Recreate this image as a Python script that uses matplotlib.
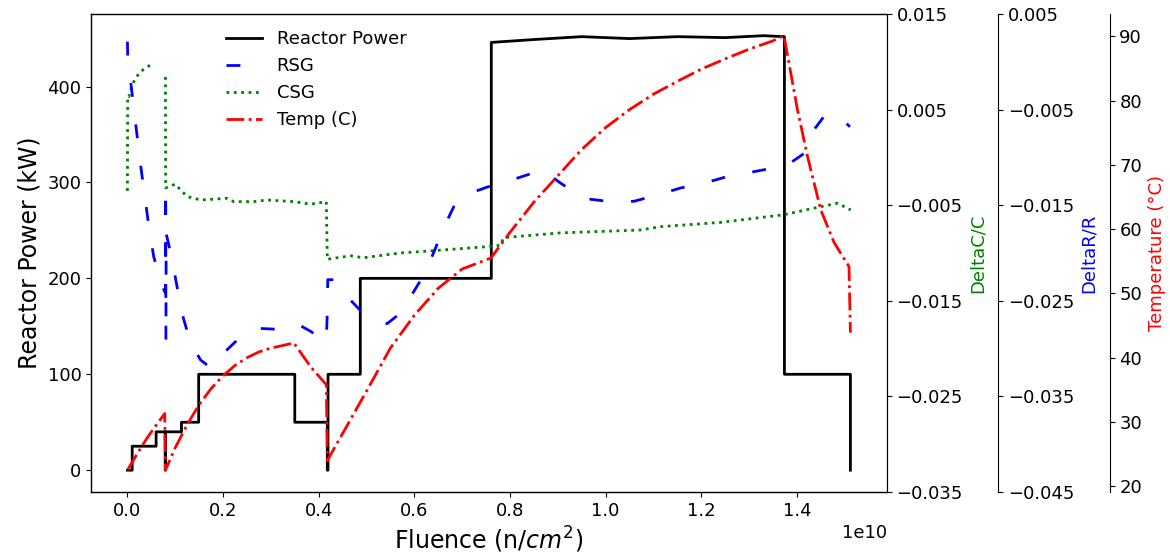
import numpy as np
import matplotlib
matplotlib.use("Agg")
import matplotlib.pyplot as plt

# ---------- data (fluence in units of 1e10 n/cm^2) ----------
power_fluence = [0.0, 0.01, 0.01, 0.06, 0.06, 0.079, 0.079, 0.0795, 0.0795, 0.113, 0.113,
                 0.149, 0.149, 0.35, 0.35, 0.418, 0.418, 0.4195, 0.4195, 0.487, 0.487,
                 0.761, 0.761, 0.85, 0.95, 1.05, 1.15, 1.25, 1.33, 1.374, 1.374, 1.512, 1.512]
power_kw = [0, 0, 25, 25, 40, 40, 0, 0, 40, 40, 50,
            50, 100, 100, 50, 50, 0, 0, 100, 100, 200,
            200, 446, 449, 452, 450, 452, 451, 453, 452, 100, 100, 0]

rsg_fluence = [0.0, 0.001, 0.003, 0.013, 0.027, 0.045, 0.055, 0.073, 0.0795,
               0.080, 0.0805, 0.081, 0.086, 0.100, 0.114, 0.132, 0.153, 0.174, 0.195,
               0.209, 0.236, 0.278, 0.320, 0.358, 0.383, 0.416, 0.418, 0.419, 0.432,
               0.460, 0.487, 0.515, 0.543, 0.571, 0.592, 0.620, 0.641, 0.662, 0.686,
               0.714, 0.753, 0.801, 0.857, 0.868, 0.906, 0.955, 1.004, 1.059, 1.111,
               1.157, 1.206, 1.255, 1.310, 1.352, 1.380, 1.415, 1.436, 1.457, 1.471,
               1.492, 1.511]
rsg = [0.0021, -0.0003, -0.0005, -0.0047, -0.0106, -0.0173, -0.0204, -0.0235, -0.0242,
       -0.0131, -0.0293, -0.0180, -0.0190, -0.0225, -0.0263, -0.0294, -0.0312, -0.0320, -0.0309,
       -0.0301, -0.0288, -0.0279, -0.0280, -0.0275, -0.0282, -0.0293, -0.0261, -0.0228, -0.0228,
       -0.0246, -0.0260, -0.0268, -0.0274, -0.0263, -0.0246, -0.0223, -0.0199, -0.0173, -0.0148,
       -0.0138, -0.0131, -0.0124, -0.0115, -0.0113, -0.0127, -0.0143, -0.0146, -0.0146, -0.0139,
       -0.0132, -0.0127, -0.0120, -0.0115, -0.0111, -0.0108, -0.0096, -0.0071, -0.0057, -0.0054,
       -0.0059, -0.0068]

csg_fluence = [0.0, 0.0005, 0.003, 0.010, 0.017, 0.027, 0.048, 0.06,
               0.0795, 0.080, 0.100, 0.111, 0.125, 0.153, 0.209, 0.222, 0.264, 0.292,
               0.348, 0.383, 0.416, 0.418, 0.425, 0.467, 0.494, 0.571, 0.613, 0.753,
               0.780, 0.787, 0.906, 1.073, 1.115, 1.241, 1.373, 1.450, 1.485, 1.5126]
csg = [-0.0035, 0.0064, 0.00635, 0.00757, 0.00827, 0.00896, 0.00967, np.nan,
       0.0084, -0.0032, -0.0028, -0.0034, -0.0041, -0.00446, -0.00428, -0.00463, -0.00463, -0.00446,
       -0.00463, -0.0049, -0.00463, -0.0107, -0.0106, -0.0103, -0.0105, -0.0100, -0.00986, -0.00934,
       -0.0092, -0.0084, -0.0079, -0.0076, -0.00725, -0.0068, -0.0060, -0.00516, -0.0048, -0.0055]

temp_fluence = [0.0, 0.02, 0.041, 0.06, 0.078, 0.0795,
                0.1, 0.125, 0.15, 0.175, 0.2, 0.225, 0.25, 0.275, 0.3, 0.325, 0.348,
                0.383, 0.416, 0.418,
                0.45, 0.5, 0.55, 0.6, 0.65, 0.7, 0.76,
                0.8, 0.85, 0.9, 0.95, 1.0, 1.05, 1.1, 1.15, 1.2, 1.25, 1.3, 1.35, 1.373,
                1.401, 1.422, 1.450, 1.478, 1.509, 1.512]
temp_c = [22.5, 25.0, 27.5, 29.5, 31.3, 22.5,
          26.0, 29.6, 32.7, 35.2, 37.2, 38.8, 40.0, 40.9, 41.5, 41.9, 42.3,
          38.6, 35.8, 24.0,
          28.2, 34.8, 41.5, 46.6, 50.8, 53.8, 55.5,
          59.5, 64.2, 68.3, 72.4, 75.8, 78.6, 81.0, 83.0, 84.9, 86.5, 88.0, 89.3, 90.1,
          78.7, 71.4, 63.0, 57.9, 54.2, 43.9]

dc_ticks = [-0.035, -0.025, -0.015, -0.005, 0.005, 0.015]
dr_ticks = [-0.045, -0.035, -0.025, -0.015, -0.005, 0.005]

scale = 1e10
fs_tick = 13

fig = plt.figure(figsize=(11.7, 5.59), dpi=100)
ax = fig.add_axes([0.078, 0.12, 0.68, 0.855])
ax2 = ax.twinx()
ax3 = ax.twinx()
ax4 = ax.twinx()
ax3.spines['right'].set_position(('axes', 1.14))
ax4.spines['right'].set_position(('axes', 1.28))

l1, = ax.plot(np.array(power_fluence) * scale, power_kw, color='k', lw=2, label='Reactor Power')
l2, = ax3.plot(np.array(rsg_fluence) * scale, rsg, color='b', lw=2, dashes=(5, 10), label='RSG')
l3, = ax2.plot(np.array(csg_fluence) * scale, csg, color='g', lw=2, ls=':', label='CSG')
l4, = ax4.plot(np.array(temp_fluence) * scale, temp_c, color='r', lw=2, ls='-.', label='Temp (C)')

ax.set_xlabel('Fluence (n/$cm^2$)', fontsize=17)
ax.set_ylabel('Reactor Power (kW)', fontsize=17)

ax2.set_ylim(-0.035, 0.015)
ax2.set_yticks(dc_ticks)
ax2.set_ylabel('DeltaC/C', color='g', fontsize=13)
ax3.set_ylim(-0.045, 0.005)
ax3.set_yticks(dr_ticks)
ax3.set_ylabel('DeltaR/R', color='b', fontsize=13)
ax4.set_ylabel('Temperature (°C)', color='r', fontsize=13)

for a in (ax, ax2, ax3, ax4):
    a.tick_params(labelsize=fs_tick)
ax.xaxis.get_offset_text().set_fontsize(fs_tick)

ax.legend(handles=[l1, l2, l3, l4], loc='upper left', bbox_to_anchor=(0.149, 1.0),
          frameon=False, fontsize=13)

fig.savefig('out.png', dpi=100)
